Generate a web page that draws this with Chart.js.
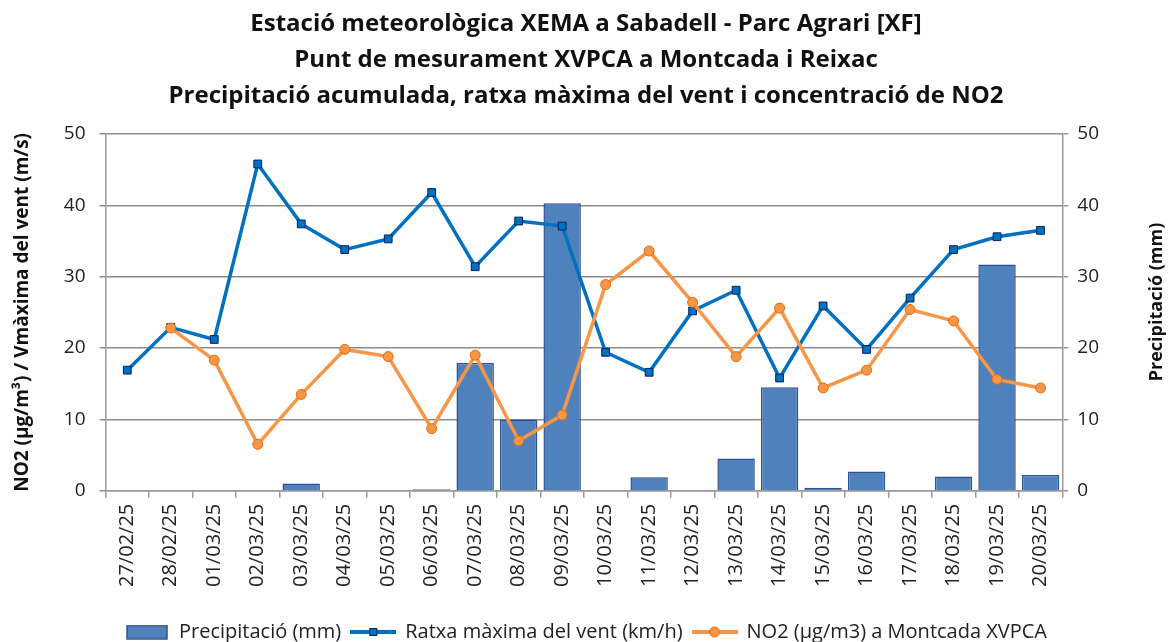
<!DOCTYPE html>
<html lang="ca">
<head>
  <meta charset="UTF-8" />
  <title>XEMA Sabadell - Parc Agrari</title>
  <script src="https://cdn.jsdelivr.net/npm/chart.js"></script>
  <style>
    body {
      margin: 0;
      background: #fff;
    }
    canvas {
      display: block;
    }
  </style>
</head>
<body>
  <canvas id="chart" width="1172" height="642"></canvas>

  <script>
    const dates = ['27/02/25', '28/02/25', '01/03/25', '02/03/25', '03/03/25', '04/03/25', '05/03/25',
      '06/03/25', '07/03/25', '08/03/25', '09/03/25', '10/03/25', '11/03/25', '12/03/25', '13/03/25',
      '14/03/25', '15/03/25', '16/03/25', '17/03/25', '18/03/25', '19/03/25', '20/03/25'];
    const precip = [0, 0, 0, 0, 1.0, 0, 0, 0.2, 17.9, 10.0, 40.3, 0, 1.9, 0.1, 4.5, 14.5, 0.4, 2.7, 0, 2.0, 31.7, 2.2];
    const windGust = [16.9, 22.9, 21.2, 45.8, 37.4, 33.8, 35.3, 41.8, 31.4, 37.8, 37.1, 19.4, 16.6, 25.2, 28.1,
      15.8, 25.9, 19.8, 27.0, 33.8, 35.6, 36.5];
    const no2 = [null, 22.8, 18.3, 6.5, 13.5, 19.8, 18.8, 8.7, 19.0, 7.0, 10.6, 28.9, 33.6, 26.4, 18.8,
      25.6, 14.4, 16.9, 25.4, 23.8, 15.6, 14.4];
    const axisTicks = [0, 10, 20, 30, 40, 50];

    const titleLines = [
      'Estació meteorològica XEMA a Sabadell - Parc Agrari [XF]',
      'Punt de mesurament XVPCA a Montcada i Reixac',
      'Precipitació acumulada, ratxa màxima del vent i concentració de NO2'
    ];
    const leftTitle = 'NO2 (µg/m³) / Vmàxima del vent (m/s)';
    const rightTitle = 'Precipitació (mm)';

    const FONT = '"Open Sans", sans-serif';
    const barFill = '#4F81BD', barEdge = '#2F528F';
    const windColor = '#0070C0', windEdge = '#002060';
    const no2Color = '#F79646', no2Edge = '#E46C0A';

    // little pictures for the legend
    function boxIcon() {
      const c = document.createElement('canvas');
      c.width = 42; c.height = 15;
      const g = c.getContext('2d');
      g.fillStyle = barFill;
      g.fillRect(1, 1, 40, 13);
      g.strokeStyle = barEdge;
      g.lineWidth = 1.5;
      g.strokeRect(1, 1, 40, 13);
      return c;
    }
    function lineIcon(color, edge, square) {
      const c = document.createElement('canvas');
      c.width = 46; c.height = 14;
      const g = c.getContext('2d');
      g.strokeStyle = color;
      g.lineWidth = 4;
      g.beginPath(); g.moveTo(0, 7); g.lineTo(46, 7); g.stroke();
      g.fillStyle = color;
      g.strokeStyle = edge;
      g.lineWidth = 1;
      if (square) {
        g.fillRect(19, 3, 8, 8); g.strokeRect(19.5, 3.5, 7, 7);
      } else {
        g.beginPath(); g.arc(23, 7, 5, 0, Math.PI * 2); g.fill(); g.stroke();
      }
      return c;
    }
    const icons = [boxIcon(), lineIcon(windColor, windEdge, true), lineIcon(no2Color, no2Edge, false)];

    // right axis title reads bottom-to-top like the left one
    const rightTitlePlugin = {
      id: 'rightTitle',
      afterDraw(chart) {
        const g = chart.ctx;
        g.save();
        g.translate(1157, 302);
        g.rotate(-Math.PI / 2);
        g.font = 'bold 18px ' + FONT;
        g.fillStyle = '#111';
        g.textAlign = 'center';
        g.textBaseline = 'middle';
        g.fillText(rightTitle, 0, 0);
        g.restore();
      }
    };

    const ctx = document.getElementById('chart').getContext('2d');
    new Chart(ctx, {
      type: 'bar',
      data: {
        labels: dates,
        datasets: [
          {
            type: 'bar',
            label: 'Precipitació (mm)',
            data: precip,
            yAxisID: 'y1',
            backgroundColor: barFill,
            borderColor: barEdge,
            borderWidth: 1.5,
            barPercentage: 0.86,
            categoryPercentage: 1,
            order: 3
          },
          {
            type: 'line',
            label: 'Ratxa màxima del vent (km/h)',
            data: windGust,
            yAxisID: 'y',
            borderColor: windColor,
            borderWidth: 3.5,
            backgroundColor: windColor,
            pointStyle: 'rect',
            pointRadius: 5.5,
            pointBorderColor: windEdge,
            pointBorderWidth: 1,
            tension: 0,
            order: 2
          },
          {
            type: 'line',
            label: 'NO2 (µg/m3) a Montcada XVPCA',
            data: no2,
            yAxisID: 'y',
            borderColor: no2Color,
            borderWidth: 3.5,
            backgroundColor: no2Color,
            pointStyle: 'circle',
            pointRadius: 5,
            pointBorderColor: no2Edge,
            pointBorderWidth: 1,
            tension: 0,
            order: 1
          }
        ]
      },
      options: {
        responsive: false,
        animation: false,
        layout: { padding: { left: 11, right: 11, top: 4, bottom: -10 } },
        plugins: {
          title: {
            display: true,
            text: titleLines,
            color: '#111',
            font: { family: FONT, size: 24, weight: 'bold', lineHeight: 1.5 },
            padding: { top: 2, bottom: 20 }
          },
          legend: {
            position: 'bottom',
            labels: {
              usePointStyle: true,
              pointStyleWidth: 44,
              color: '#222',
              font: { family: FONT, size: 20 },
              padding: 10,
              generateLabels: (chart) => chart.data.datasets.map((ds, i) => ({
                text: ds.label,
                datasetIndex: i,
                pointStyle: icons[i],
                fillStyle: 'transparent',
                strokeStyle: 'transparent',
                lineWidth: 0,
                fontColor: '#222'
              }))
            }
          },
          tooltip: { enabled: false }
        },
        scales: {
          x: {
            afterFit: (axis) => { axis.height += 19; },
            grid: { display: true, drawOnChartArea: false, color: '#999', lineWidth: 1.5, tickLength: 7, offset: true },
            border: { color: '#999', width: 1.5 },
            ticks: {
              color: '#222',
              font: { family: FONT, size: 20 },
              padding: 6,
              minRotation: 90,
              maxRotation: 90,
              autoSkip: false
            }
          },
          y: {
            position: 'left',
            min: 0,
            max: 50,
            afterBuildTicks: (axis) => { axis.ticks = axisTicks.map(v => ({ value: v })); },
            grid: { color: '#8c8c8c', lineWidth: 1.5, tickLength: 6 },
            border: { color: '#999', width: 1.5 },
            ticks: { color: '#222', font: { family: FONT, size: 19 }, padding: 14 },
            title: {
              display: true,
              text: leftTitle,
              color: '#111',
              font: { family: FONT, size: 19, weight: 'bold' },
              padding: { top: 0, bottom: 16 }
            }
          },
          y1: {
            position: 'right',
            min: 0,
            max: 50,
            afterBuildTicks: (axis) => { axis.ticks = axisTicks.map(v => ({ value: v })); },
            afterFit: (axis) => { axis.width += 53; },
            grid: { drawOnChartArea: false, color: '#999', lineWidth: 1.5, tickLength: 6 },
            border: { color: '#999', width: 1.5 },
            ticks: { color: '#222', font: { family: FONT, size: 19 }, padding: 9 }
          }
        }
      },
      plugins: [rightTitlePlugin]
    });
  </script>
</body>
</html>
